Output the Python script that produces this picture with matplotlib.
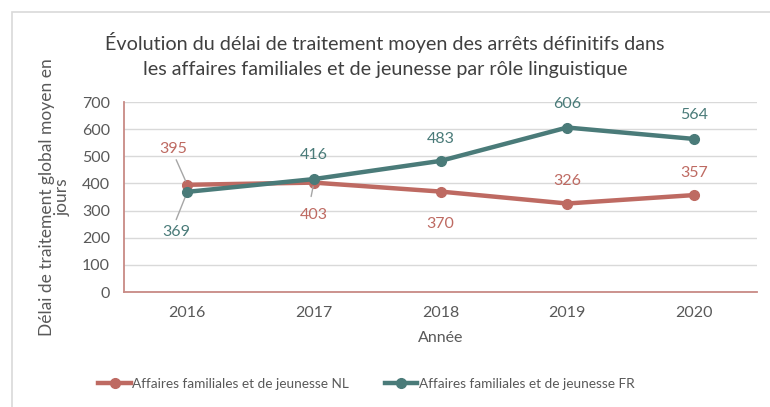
import matplotlib
matplotlib.use("Agg")
import matplotlib.pyplot as plt
from matplotlib.patches import Rectangle

years = ["2016", "2017", "2018", "2019", "2020"]
nl_values = [395, 403, 370, 326, 357]
fr_values = [369, 416, 483, 606, 564]
nl_name = "Affaires familiales et de jeunesse NL"
fr_name = "Affaires familiales et de jeunesse FR"
title = "Évolution du délai de traitement moyen des arrêts définitifs dans\nles affaires familiales et de jeunesse par rôle linguistique"
ylabel = "Délai de traitement global moyen en\njours"
xlabel = "Année"
yticks = [0, 100, 200, 300, 400, 500, 600, 700]

plt.rcParams['font.family'] = ['Lato', 'DejaVu Sans']

nl_col = "#BE6A62"
fr_col = "#4A7B79"
txt_col = "#595959"

fig = plt.figure(figsize=(7.7, 4.07), dpi=100)
fig.patches.append(Rectangle((12/770, -0.1), 1.2, 1 - 12/407 + 0.1, transform=fig.transFigure,
                             fill=False, edgecolor="#D9D9D9", linewidth=1.2))
ax = fig.add_axes([124/770, 1 - 292/407, (757 - 124)/770, (292 - 102)/407])

x = list(range(len(years)))
ax.plot(x, nl_values, color=nl_col, lw=3.2, marker="o", ms=7, label=nl_name, zorder=3)
ax.plot(x, fr_values, color=fr_col, lw=3.2, marker="o", ms=7, label=fr_name, zorder=4)

ax.set_xlim(-0.5, len(years) - 0.5)
ax.set_ylim(0, 700)
ax.set_yticks(yticks)
ax.set_xticks(x)
ax.set_xticklabels(years)
ax.tick_params(length=0, colors=txt_col, labelsize=11.5)
ax.tick_params(axis="y", pad=10)
ax.tick_params(axis="x", pad=10)
ax.grid(axis="y", color="#D9D9D9", lw=1)
ax.set_axisbelow(True)
for s in ["top", "right"]:
    ax.spines[s].set_visible(False)
for s in ["left", "bottom"]:
    ax.spines[s].set_color("#C88A85")
    ax.spines[s].set_linewidth(1.3)

# data labels (offsets in points)
nl_off = [(-10, 26), (0, -23), (0, -23), (0, 16), (0, 16)]
fr_off = [(-8, -29), (0, 17), (0, 16), (0, 17), (0, 17)]
for i, v in enumerate(nl_values):
    dx, dy = nl_off[i]
    ax.annotate(str(v), (i, v), xytext=(dx, dy), textcoords="offset points",
                ha="center", va="center", color=nl_col, fontsize=11.5)
for i, v in enumerate(fr_values):
    dx, dy = fr_off[i]
    ax.annotate(str(v), (i, v), xytext=(dx, dy), textcoords="offset points",
                ha="center", va="center", color=fr_col, fontsize=11.5)
# leader lines for first points
ax.annotate("", (0, nl_values[0]), xytext=(-8, 18), textcoords="offset points",
            arrowprops=dict(arrowstyle="-", color="#A6A6A6", lw=1, shrinkA=0, shrinkB=3))
ax.annotate("", (0, fr_values[0]), xytext=(-8, -20), textcoords="offset points",
            arrowprops=dict(arrowstyle="-", color="#A6A6A6", lw=1, shrinkA=0, shrinkB=3))
ax.annotate("", (1, nl_values[1]), xytext=(-2, -10), textcoords="offset points",
            arrowprops=dict(arrowstyle="-", color="#A6A6A6", lw=1, shrinkA=0, shrinkB=3))

ax.set_xlabel(xlabel, color=txt_col, fontsize=11.5, labelpad=8)
ax.set_ylabel(ylabel, color=txt_col, fontsize=12.5, labelpad=8, linespacing=1.0)

fig.text(0.5, 1 - 55/407, title, ha="center", va="center", fontsize=14.2,
         color="#404040", linespacing=1.55)

fig.legend(loc="center left", bbox_to_anchor=(93/770, 1 - 384/407), ncol=2,
           frameon=False, fontsize=9.8, labelcolor=txt_col, handlelength=2.4,
           handletextpad=0.1, columnspacing=2.6, borderaxespad=0)

fig.savefig("out.png", dpi=100)
